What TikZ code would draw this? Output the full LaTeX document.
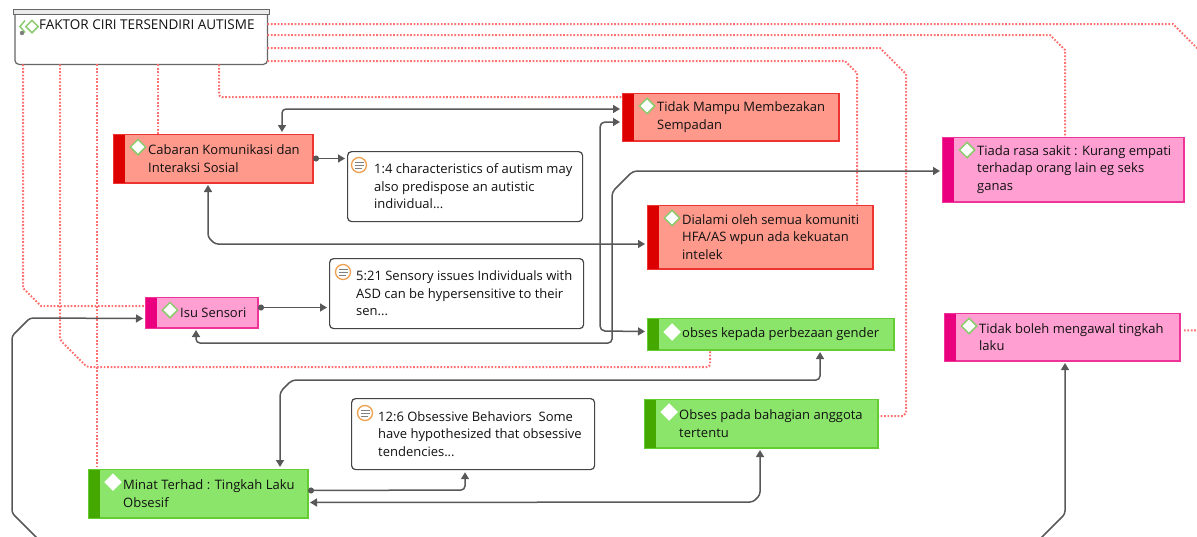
\documentclass[tikz,border=0pt]{standalone}
\usepackage{fontspec}
\setmainfont{Open Sans}
\usetikzlibrary{arrows.meta,shapes.geometric,calc}
\definecolor{redfill}{HTML}{FF998C}
\definecolor{redbar}{HTML}{DD0000}
\definecolor{redline}{HTML}{EE3333}
\definecolor{pinkfill}{HTML}{FF9FD2}
\definecolor{pinkbar}{HTML}{EA007F}
\definecolor{pinkline}{HTML}{EE3399}
\definecolor{greenfill}{HTML}{8AE56A}
\definecolor{greenbar}{HTML}{45A800}
\definecolor{greenline}{HTML}{66CC33}
\definecolor{conncol}{HTML}{585858}
\definecolor{dotred}{HTML}{FF7070}
\definecolor{icongreen}{HTML}{8CCB6E}
\definecolor{noteorange}{HTML}{F0A050}
\definecolor{notegray}{HTML}{444444}
\definecolor{txtc}{HTML}{111111}
\definecolor{topgray}{HTML}{666666}
\tikzset{
  cbox/.style={draw=#1line, fill=#1fill, line width=1pt, inner sep=0pt, rectangle},
  icobase/.style={diamond, fill=white, line width=1.5pt, minimum size=16pt, inner sep=0pt},
  ico-red/.style={icobase, draw=icongreen},
  ico-pink/.style={icobase, draw=icongreen},
  ico-green/.style={icobase, draw=white},
  txt/.style={inner sep=0pt, align=left, text=txtc, font=\fontsize{13}{17.5}\selectfont},
  nbox/.style={draw=notegray, fill=white, rounded corners=4pt, line width=1.2pt, inner sep=0pt, rectangle},
  nicon/.style={circle, draw=noteorange, fill=white, line width=1.3pt, minimum size=15pt, inner sep=0pt},
  cn/.style={draw=conncol, line width=1.5pt},
  dotl/.style={draw=dotred, line width=2pt, dash pattern=on 1.7pt off 1.7pt},
  Tri/.tip={Triangle[length=7pt,width=8pt]},
  Dot/.tip={Circle[length=6pt]},
  both/.style={Tri-Tri, shorten >=2pt, shorten <=2pt},
  dotto/.style={Dot-Tri, shorten >=2pt}
}
% name, x1, y1, x2, y2, colour, icon y, text
\newcommand\codebox[8]{%
  \node[cbox=#6, anchor=north west, minimum width={#4-#2}, minimum height={#5-#3}] (#1) at (#2,#3) {};
  \fill[#6bar] (#1.north west) rectangle ([xshift=12pt]#1.south west);
  \draw[#6line, line width=1pt] (#1.north west) rectangle (#1.south east);
  \node[ico-#6] (#1-i) at (#2+25,#7) {};
  \node[txt, anchor=west] (#1-t) at ([xshift=35pt]#1.west) {#8};
}
% name, x1, y1, x2, y2, icon x offset, icon y, text
\newcommand\notebox[8]{%
  \node[nbox, anchor=north west, minimum width={#4-#2}, minimum height={#5-#3}] (#1) at (#2,#3) {};
  \node[nicon] (#1-i) at (#2+#6,#7) {};
  \draw[gray, line width=1pt] ([xshift=-4.5pt,yshift=3pt]#1-i.center) -- ([xshift=4.5pt,yshift=3pt]#1-i.center)
    ([xshift=-4.5pt]#1-i.center) -- ([xshift=4.5pt]#1-i.center)
    ([xshift=-4.5pt,yshift=-3pt]#1-i.center) -- ([xshift=2.5pt,yshift=-3pt]#1-i.center);
  \node[txt, anchor=west] (#1-t) at ([xshift=27pt]#1.west) {#8};
}
\begin{document}
\begin{tikzpicture}[x=1pt,y=-1pt]
\useasboundingbox (0,0) rectangle (1197,536);
\fill[white] (0,0) rectangle (1197,536);

% ---- top node
\node[anchor=north west, minimum width=252, minimum height=50, inner sep=0pt, rectangle] (top) at (15,14) {};
\draw[topgray, fill=white, line width=1.2pt, rounded corners=4pt] ([yshift=4pt]top.north west) -- (top.south west) -- (top.south east) -- ([yshift=4pt]top.north east) -- cycle;
\node[anchor=north west, minimum width=256, minimum height=5, inner sep=0pt, rectangle, draw=topgray, fill=white!92!black, line width=1.1pt] (toph) at (13,9) {};
\draw[icongreen, line width=1.5pt] (25,20.5) -- (20,26.5) -- (25,32.5);
\node[icobase, draw=icongreen, minimum size=13pt] (topic) at (32,26.5) {};
\fill[gray] (22,33) circle (2.2);
\node[txt, anchor=west, font=\fontsize{13.5}{17.5}\selectfont] (top-t) at (39,25) {FAKTOR CIRI TERSENDIRI AUTISME};

% ---- red dotted links from the top node (drawn first, under boxes)
\draw[dotl] ([yshift=-10pt]top.north east) -- (1173,24) -- (1215,66);
\draw[dotl] ([yshift=-21pt]top.north east) -- (1050,35) -- (1065,50) -- (1065,137);
\draw[dotl] ([yshift=-34pt]top.north east) -- (880,48) -- (906,74) -- (906,413) -- (903,416) -- (877,416);
\draw[dotl] ([yshift=-47pt]top.north east) -- (845,61) -- (857,73) -- (857,205);
\draw[dotl] ([xshift=8pt]top.south west) -- (23,288) -- (41,306) -- (145,306);
\draw[dotl, rounded corners=3pt] ([xshift=45pt]top.south west) -- (60,340) -- (87,367) -- (710,367) -- (710,349);
\draw[dotl] ([xshift=82pt]top.south west) -- (97,469);
\draw[dotl] ([xshift=143pt]top.south west) -- (158,134);
\draw[dotl, rounded corners=3pt] ([xshift=204pt]top.south west) -- (219,97) -- (622,97);

% ---- code boxes
\codebox{cab}{113}{134}{312}{182}{red}{147}{Cabaran Komunikasi dan\\Interaksi Sosial}
\codebox{tm}{622}{93}{838}{140}{red}{106}{Tidak Mampu Membezakan\\Sempadan}
\codebox{dia}{647}{205}{872}{268}{red}{218}{Dialami oleh semua komuniti\\HFA/AS wpun ada kekuatan\\intelek}
\codebox{tia}{942}{137}{1183}{201}{pink}{150}{Tiada rasa sakit : Kurang empati\\terhadap orang lain eg seks\\ganas}
\codebox{isu}{145}{297}{257}{327}{pink}{310}{Isu Sensori}
\codebox{tbm}{944}{313}{1179}{360}{pink}{326}{Tidak boleh mengawal tingkah\\laku}
\codebox{gen}{647}{318}{893}{349}{green}{332}{obses kepada perbezaan gender}
\codebox{opb}{644}{399}{877}{447}{green}{412}{Obses pada bahagian anggota\\tertentu}
\codebox{min}{88}{469}{307}{517}{green}{482}{Minat Terhad : Tingkah Laku\\Obsesif}

% ---- notes
\notebox{n14}{347}{151}{582}{221}{12}{165}{1:4 characteristics of autism may\\also predispose an autistic\\individual...}
\notebox{n521}{329}{258}{583}{328}{14}{272}{5:21 Sensory issues Individuals with\\ASD can be hypersensitive to their\\sen...}
\notebox{n126}{351}{398}{594}{469}{14}{413}{12:6 Obsessive Behaviors\ \ Some\\have hypothesized that obsessive\\tendencies...}

% ---- dotted link out of the right-hand box
\draw[dotl, shorten <=4pt] ([yshift=6.5pt]tbm.east) -- (1215,330);

% ---- grey connectors
\draw[cn, both, rounded corners=4pt] ([yshift=-16pt]tm.north west) -- (282,109) -- ([xshift=169pt]cab.north west);
\draw[cn, both, rounded corners=5pt] ([yshift=-29pt]tm.north west) -- (600,122) -- (600,331) -- ([yshift=2.5pt]gen.west);
\draw[cn, both, rounded corners=4pt] ([xshift=51pt]isu.south west) -- (196,343) -- (612,343) -- (612,192) -- (633,171) -- ([yshift=-34pt]tia.north west);
\draw[cn, both, rounded corners=3pt] ([xshift=95pt]cab.south west) -- (208,237) -- (215,244) -- ([yshift=-39pt]dia.north west);
\draw[cn, dotto] (cab.east) -- (cab.east -| n14.west);
\coordinate (isuR) at ([yshift=5pt]isu.east);
\draw[cn, dotto] (isuR) -- (isuR -| n521.west);
\coordinate (isuL) at ([yshift=-6pt]isu.west);
\draw[cn, both, rounded corners=3pt] (isuL) -- (30,318) -- (12,336) -- (12,513) -- (40,541) -- (1038,541) -- (1065,514) -- ([xshift=121pt]tbm.south west);
\draw[cn, both, rounded corners=4pt] ([xshift=192pt]min.north west) -- (280,392) -- (292,380) -- (820,380) -- ([xshift=173pt]gen.south west);
\coordinate (minR1) at ([yshift=3pt]min.east);
\draw[cn, dotto, rounded corners=4pt] (minR1) -- (465,490) -- ([xshift=114pt]n126.south west);
\coordinate (minR2) at ([yshift=-9pt]min.east);
\draw[cn, both, rounded corners=3pt] (minR2) -- (753,502) -- (760,495) -- ([xshift=116pt]opb.south west);
\end{tikzpicture}
\end{document}
